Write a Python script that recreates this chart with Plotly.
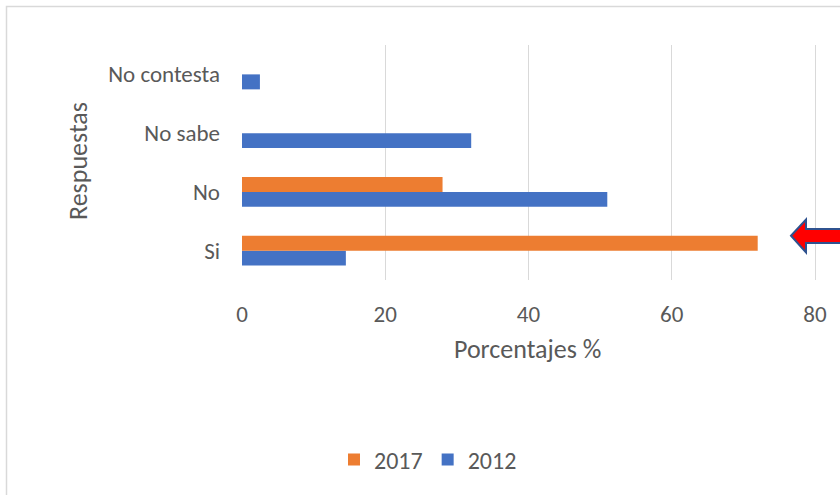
import plotly.graph_objects as go

categories = ["Si", "No", "No sabe", "No contesta"]
values_2012 = [14.5, 51, 32, 2.5]
values_2017 = [72, 28, None, None]
x_ticks = [0, 20, 40, 60, 80]
series_names = ["2012", "2017"]
colors = {"2012": "#4472C4", "2017": "#ED7D31"}

W, H = 840, 495
L, R = 242, 0
T, B = 45, H - 280
PW, PH = W - L - R, H - T - B
XMAX = PW / (573.0 / 80.0)

def px(x):
    return (x - L) / PW

def py(y):
    return (H - B - y) / PH

FONT = "Calibri, Carlito, Lato, sans-serif"
TXT = "#595959"

fig = go.Figure()
fig.add_trace(go.Bar(y=categories, x=values_2012, name=series_names[0], orientation="h",
                     marker=dict(color=colors["2012"], line=dict(width=0))))
fig.add_trace(go.Bar(y=categories, x=values_2017, name=series_names[1], orientation="h",
                     marker=dict(color=colors["2017"], line=dict(width=0))))

fig.update_layout(
    width=W, height=H,
    margin=dict(l=L, r=R, t=T, b=B, autoexpand=False),
    paper_bgcolor="white", plot_bgcolor="white",
    barmode="group", bargap=0.49, bargroupgap=0,
    font=dict(family=FONT, color=TXT, size=23),
    showlegend=True,
    legend=dict(orientation="h", traceorder="reversed", x=px(428), xanchor="center",
                y=py(460), yanchor="middle", font=dict(size=24, color=TXT),
                itemwidth=30, bgcolor="rgba(0,0,0,0)"),
    xaxis=dict(range=[0, XMAX], tickvals=x_ticks, showgrid=True, gridcolor="#d9d9d9",
               gridwidth=1, zeroline=False, showline=False, ticks="",
               ticklabelstandoff=18, tickfont=dict(size=23, color=TXT), fixedrange=True),
    yaxis=dict(categoryorder="array", categoryarray=categories, showgrid=False,
               zeroline=False, showline=False, ticks="", ticklabelstandoff=21,
               tickfont=dict(size=23, color=TXT), fixedrange=True),
    annotations=[
        dict(text="Porcentajes %", xref="paper", yref="paper", x=px(527), y=py(349),
             xanchor="center", yanchor="middle", showarrow=False,
             font=dict(size=26, color=TXT, family=FONT)),
        dict(text="Respuestas", xref="paper", yref="paper", x=px(78), y=py(161),
             xanchor="center", yanchor="middle", textangle=-90, showarrow=False,
             font=dict(size=26, color=TXT, family=FONT)),
    ],
)

# Chart frame
fig.add_shape(type="rect", xref="paper", yref="paper", x0=px(6.5), x1=px(860),
              y0=py(6.5), y1=py(530), line=dict(color="#d9d9d9", width=1.5),
              fillcolor="rgba(0,0,0,0)", layer="below")

# Red arrow
pts = [(791, 235.7), (806, 219.5), (806, 229), (860, 229), (860, 243), (806, 243), (806, 252.5)]
path = "M " + " L ".join(f"{px(a):.5f},{py(b):.5f}" for a, b in pts) + " Z"
fig.add_shape(type="path", xref="paper", yref="paper", path=path,
              fillcolor="#FF0000", line=dict(color="#2F528F", width=2), layer="above")

fig.write_html("out.html", config={"displayModeBar": False, "staticPlot": True},
               post_script="document.body.style.margin='0';document.body.style.overflow='hidden';")
